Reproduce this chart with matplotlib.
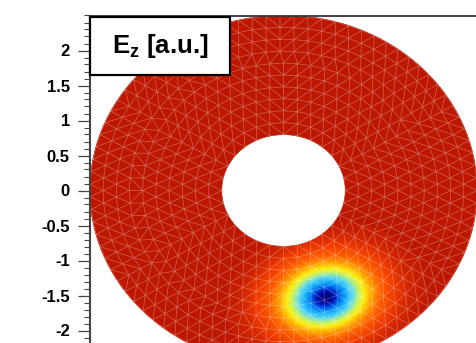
import numpy as np
import matplotlib
matplotlib.use('Agg')
import matplotlib.pyplot as plt
import matplotlib.tri as mtri
from matplotlib.colors import LinearSegmentedColormap
from matplotlib.patches import Rectangle
from matplotlib.ticker import MultipleLocator, FixedLocator

# geometry of the coaxial cross-section
r_inner = 0.8
r_outer = 2.5

# field blob (Ez minimum)
blob_x = 0.55
blob_y = -1.53
blob_scale_major = 0.58
blob_scale_minor = 0.47
blob_angle_deg = 18.0
blob_power = 1.7

y_ticks = [-2, -1.5, -1, -0.5, 0, 0.5, 1, 1.5, 2]
y_tick_labels = ['-2', '-1.5', '-1', '-0.5', '0', '0.5', '1', '1.5', '2']
label_text = r'E$_\mathbf{z}$ [a.u.]'

# palette stops (position, colour) - rainbow, dark blue at the minimum
palette = [
    (0.00, (0.00, 0.00, 0.50)),
    (0.06, (0.00, 0.10, 0.75)),
    (0.14, (0.00, 0.45, 0.95)),
    (0.24, (0.10, 0.70, 1.00)),
    (0.36, (0.40, 0.87, 0.92)),
    (0.46, (0.78, 0.95, 0.40)),
    (0.55, (1.00, 0.94, 0.05)),
    (0.66, (1.00, 0.65, 0.00)),
    (0.78, (1.00, 0.38, 0.00)),
    (0.90, (0.93, 0.22, 0.00)),
    (1.00, (0.74, 0.09, 0.00)),
]

plt.rcParams['font.family'] = ['Liberation Sans', 'DejaVu Sans']
plt.rcParams['mathtext.fontset'] = 'custom'
plt.rcParams['mathtext.rm'] = 'Liberation Sans:bold'
plt.rcParams['mathtext.bf'] = 'Liberation Sans:bold'


def field(x, y):
    a = np.deg2rad(blob_angle_deg)
    dx = x - blob_x
    dy = y - blob_y
    u = dx * np.cos(a) + dy * np.sin(a)
    v = -dx * np.sin(a) + dy * np.cos(a)
    q = np.hypot(u / blob_scale_major, v / blob_scale_minor)
    return 1.0 - np.exp(-q ** blob_power)


cmap = LinearSegmentedColormap.from_list('ez', palette, N=56)

W, H = 476, 343
fig = plt.figure(figsize=(W / 100, H / 100), dpi=100)
# axes spans x -2.5..2.5 and y -2.5..2.5; lower part is cut off by the canvas
left_px, right_px, top_px, bottom_px = 90, 477, 15.5, 365.5
ax = fig.add_axes([left_px / W, 1 - bottom_px / H,
                   (right_px - left_px) / W, (bottom_px - top_px) / H])
ax.set_xlim(-2.5, 2.5)
ax.set_ylim(-2.5, 2.5)

# fine polar grid for the colour
rr = np.linspace(r_inner, r_outer, 140)
tt = np.linspace(0, 2 * np.pi, 721)
R, T = np.meshgrid(rr, tt)
X = R * np.cos(T)
Y = R * np.sin(T)
ax.pcolormesh(X, Y, field(X, Y), cmap=cmap, vmin=0, vmax=1,
              shading='gouraud', rasterized=True)

# coarse triangular mesh overlay
px, py = [], []
for i, r in enumerate(np.linspace(r_inner, r_outer, 11)):
    n = int(round(2 * np.pi * r / 0.18))
    th = (np.arange(n) + 0.5 * (i % 2)) * 2 * np.pi / n
    px.extend(r * np.cos(th))
    py.extend(r * np.sin(th))
px = np.array(px)
py = np.array(py)
tri = mtri.Triangulation(px, py)
cx = px[tri.triangles].mean(axis=1)
cy = py[tri.triangles].mean(axis=1)
tri.set_mask(np.hypot(cx, cy) < r_inner * 0.97)
ax.triplot(tri, color='white', lw=0.55, alpha=0.3)

# axis styling
ax.spines['bottom'].set_visible(False)
ax.spines['left'].set_linewidth(1.5)
ax.spines['left'].set_color('#444444')
ax.spines['top'].set_linewidth(1.3)
ax.spines['top'].set_color('#333333')
ax.spines['right'].set_linewidth(0.8)
ax.spines['right'].set_color('#999999')
ax.xaxis.set_visible(False)
ax.yaxis.set_major_locator(FixedLocator(y_ticks))
ax.yaxis.set_minor_locator(MultipleLocator(0.1))
ax.set_yticklabels(y_tick_labels, fontsize=12, fontweight='bold')
ax.tick_params(axis='y', which='major', direction='out', length=8.5, width=0.9,
               color='#444444', pad=6)
ax.tick_params(axis='y', which='minor', direction='out', length=4.5, width=0.8,
               color='#444444')

# label box
box_l, box_r, box_t, box_b = 90, 230, 17, 75
fig.patches.append(Rectangle((box_l / W, 1 - box_b / H), (box_r - box_l) / W,
                             (box_b - box_t) / H, transform=fig.transFigure,
                             facecolor='white', edgecolor='black', lw=1.6,
                             zorder=10))
fig.text((box_l + box_r) / 2 / W, 1 - 46 / H, label_text, fontsize=18.5,
         fontweight='bold', ha='center', va='center', zorder=11)

fig.savefig('out.png', dpi=100)
